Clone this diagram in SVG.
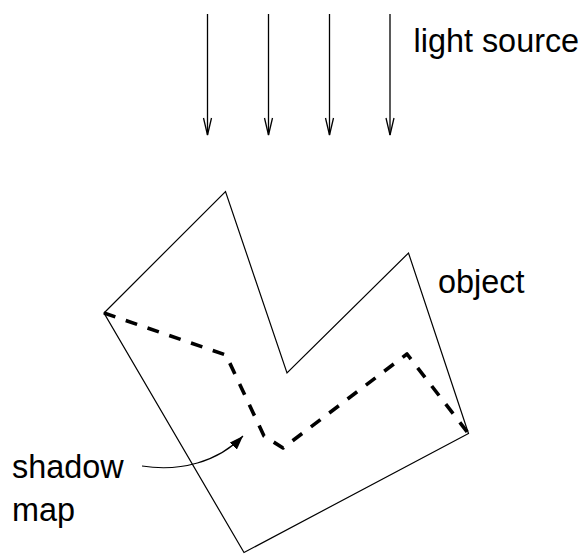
<svg xmlns="http://www.w3.org/2000/svg" width="582" height="554" viewBox="0 0 582 554">
<defs>
<style>
.t{font-family:"Liberation Sans",Arial,sans-serif;font-size:32.4px;fill:#000}
.ray{stroke:#000;stroke-width:1.3;fill:none}
.head{stroke:#000;stroke-width:1.3;fill:none}
.obj{stroke:#000;stroke-width:1.2;fill:none;stroke-linejoin:miter}
.shadow{stroke:#000;stroke-width:3.6;fill:none;stroke-dasharray:12 11;stroke-linejoin:round}
</style>
<marker id="fa" markerWidth="16" markerHeight="10" refX="14" refY="5" orient="auto" markerUnits="userSpaceOnUse">
<path d="M0,0 L14,5 L0,10 Z" fill="#000"/>
</marker>
</defs>
<rect width="582" height="554" fill="#fff"/>
<g id="light-source">
<g class="ray">
<line x1="207.5" y1="14" x2="207.5" y2="135"/>
<line x1="268.5" y1="14" x2="268.5" y2="135"/>
<line x1="329.5" y1="14" x2="329.5" y2="135"/>
<line x1="390" y1="14" x2="390" y2="135"/>
</g>
<g class="head">
<polyline points="203.5,118 207.5,135 211.5,118"/>
<polyline points="264.5,118 268.5,135 272.5,118"/>
<polyline points="325.5,118 329.5,135 333.5,118"/>
<polyline points="386,118 390,135 394,118"/>
</g>
<text class="t" x="413.5" y="52">light source</text>
</g>
<g id="object">
<polygon class="obj" points="104,313 225.5,191.5 287,373 408.5,253 468.5,433.5 244,552.5"/>
<text class="t" x="438" y="293">object</text>
</g>
<g id="shadow-map">
<polyline class="shadow" points="104,313 226,355 264,436 283,448 407,354 468,433"/>
<text class="t" x="12" y="478">shadow</text>
<text class="t" x="12" y="521">map</text>
</g>
<g id="connectors">
<path d="M142,466 C180,472 218,462 243,436" fill="none" stroke="#000" stroke-width="1.2" marker-end="url(#fa)"/>
</g>
</svg>
